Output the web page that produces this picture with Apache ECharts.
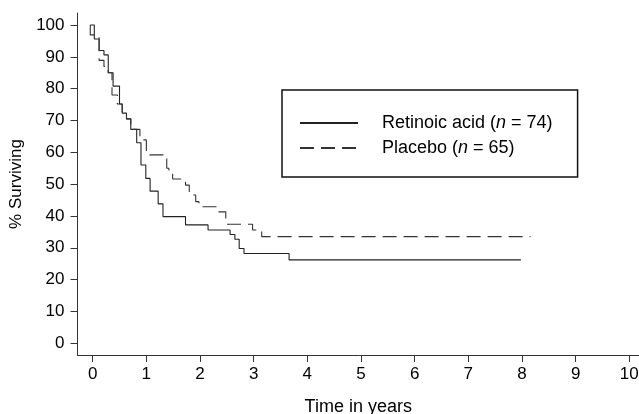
<!DOCTYPE html>
<html>
<head>
<meta charset="utf-8">
<script src="https://cdn.jsdelivr.net/npm/echarts@6/dist/echarts.min.js"></script>
<style>html,body{margin:0;padding:0;background:#fff;}#c{width:639px;height:414px;}</style>
</head>
<body>
<div id="c"></div>
<script>
// Kaplan-Meier step points: time (years) at which each level starts, and % surviving
const retinoicT = [-0.045, 0.03, 0.12, 0.21, 0.29, 0.38, 0.5, 0.55, 0.63, 0.71, 0.82, 0.9, 0.99, 1.07, 1.22, 1.31, 1.73, 2.15, 2.56, 2.65, 2.73, 2.82, 3.66, 7.98];
const retinoicV = [100, 95.6, 92.0, 90.6, 85.0, 80.8, 75.2, 72.3, 70.5, 67.2, 63.0, 56.0, 51.8, 47.8, 43.8, 39.8, 37.2, 35.6, 34.2, 32.7, 29.8, 28.2, 26.2, 26.2];
const placeboT = [-0.045, -0.045, 0.12, 0.21, 0.29, 0.36, 0.46, 0.55, 0.63, 0.71, 0.88, 1.0, 1.38, 1.42, 1.49, 1.73, 1.8, 1.92, 1.98, 2.3, 2.48, 2.98, 3.15, 8.16];
const placeboV = [100, 96.9, 88.9, 87.0, 85.0, 78.0, 75.2, 72.3, 70.5, 67.2, 63.9, 59.2, 55.0, 53.2, 51.6, 49.7, 46.6, 44.5, 42.9, 41.3, 37.4, 35.6, 33.5, 33.5];
const seriesNames = ['Retinoic acid', 'Placebo'];
const seriesN = [74, 65];
const yTicks = [0, 10, 20, 30, 40, 50, 60, 70, 80, 90, 100];
const xTicks = [0, 1, 2, 3, 4, 5, 6, 7, 8, 9, 10];
const xTitle = 'Time in years';
const yTitle = '% Surviving';

const FONT = '"Liberation Sans", Arial, Helvetica, sans-serif';
const pairs = (t, v) => t.map((x, i) => [x, v[i]]);

const chart = echarts.init(document.getElementById('c'), null, {renderer: 'canvas'});
chart.setOption({
  animation: false,
  backgroundColor: '#ffffff',
  grid: {left: 77.5, right: 0, top: 13, bottom: 59, containLabel: false, outerBoundsMode: 'none'},
  xAxis: {
    type: 'value', min: -0.283, max: 10.181,
    name: xTitle, nameLocation: 'middle', nameGap: 43,
    nameTextStyle: {fontFamily: FONT, fontSize: 18, color: '#000'},
    splitLine: {show: false},
    axisLine: {show: true, onZero: false, lineStyle: {color: '#333', width: 1}},
    axisTick: {show: true, length: 7, customValues: xTicks, lineStyle: {color: '#333'}},
    axisLabel: {customValues: xTicks, margin: 11, fontFamily: FONT, fontSize: 17, color: '#000', showMaxLabel: true, hideOverlap: false}
  },
  yAxis: {
    type: 'value', min: -3.68, max: 103.77,
    name: yTitle, nameLocation: 'middle', nameGap: 52,
    nameTextStyle: {fontFamily: FONT, fontSize: 17, color: '#000'},
    splitLine: {show: false},
    axisLine: {show: true, onZero: false, lineStyle: {color: '#333', width: 1}},
    axisTick: {show: true, length: 7, customValues: yTicks, lineStyle: {color: '#333'}},
    axisLabel: {customValues: yTicks, margin: 13, fontFamily: FONT, fontSize: 17, color: '#000'}
  },
  legend: {
    orient: 'vertical', left: 282, top: 90,
    padding: [24, 25, 20, 17],
    itemWidth: 58, itemHeight: 14, itemGap: 7,
    borderColor: '#111', borderWidth: 1.5, backgroundColor: '#fff',
    itemStyle: {opacity: 0},
    data: seriesNames,
    formatter: function (name) {
      const n = seriesN[seriesNames.indexOf(name)];
      return '{a|' + name + ' (}{i|n}{a| = ' + n + ')}';
    },
    textStyle: {
      fontFamily: FONT, fontSize: 18, color: '#000', padding: [0, 0, 0, 19],
      rich: {
        a: {fontFamily: FONT, fontSize: 18, color: '#000', lineHeight: 20},
        i: {fontFamily: FONT, fontSize: 18, color: '#000', fontStyle: 'italic', lineHeight: 20}
      }
    }
  },
  series: [
    {
      name: seriesNames[0], type: 'line', step: 'end', symbol: 'none', showSymbol: false,
      data: pairs(retinoicT, retinoicV),
      lineStyle: {color: '#222', width: 1.1, type: 'solid'},
      itemStyle: {color: '#222'}
    },
    {
      name: seriesNames[1], type: 'line', step: 'end', symbol: 'none', showSymbol: false,
      data: pairs(placeboT, placeboV),
      lineStyle: {color: '#333', width: 1.1, type: [14, 7]},
      itemStyle: {color: '#333'}
    }
  ]
});
</script>
</body>
</html>
